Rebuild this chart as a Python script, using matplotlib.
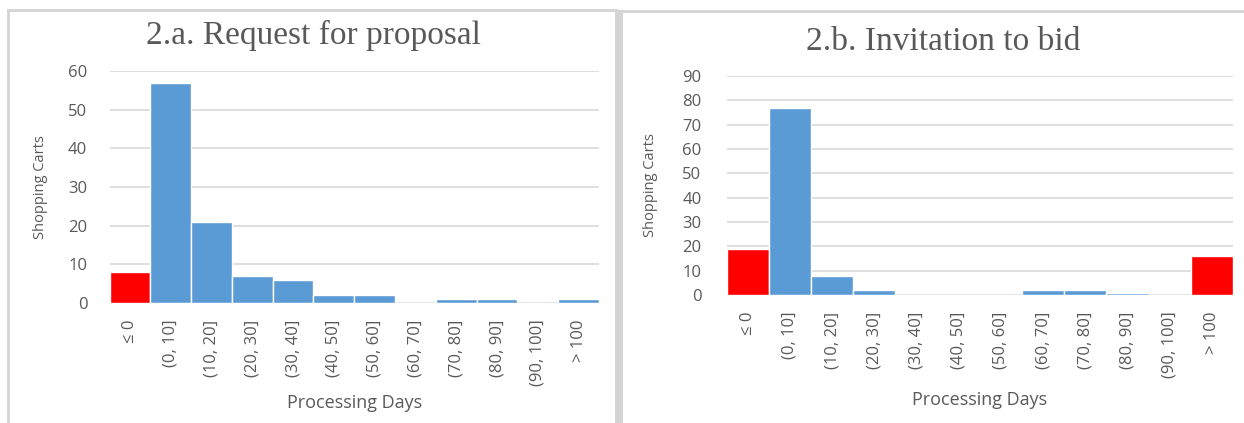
import matplotlib.pyplot as plt
from matplotlib.patches import Rectangle

# bin labels shared by both panels
bins = ["≤ 0", "(0, 10]", "(10, 20]", "(20, 30]", "(30, 40]", "(40, 50]",
        "(50, 60]", "(60, 70]", "(70, 80]", "(80, 90]", "(90, 100]", "> 100"]

# shopping carts per bin
rfp_counts = [8, 57, 21, 7, 6, 2, 2, 0, 1, 1, 0, 1]
itb_counts = [19, 77, 8, 2, 0, 0, 0, 2, 2, 1, 0, 16]

# which bins are highlighted red
rfp_red = [True] + [False] * 11
itb_red = [True] + [False] * 10 + [True]

BLUE = "#5B9BD5"
RED = "#FF0000"
GREY_TXT = "#595959"
GRID = "#D9D9D9"
FRAME = "#D4D4D4"

plt.rcParams["font.family"] = ["Open Sans", "DejaVu Sans"]

W, H = 1244, 423
fig = plt.figure(figsize=(W / 100, H / 100), dpi=100)


def box(x0, y0, x1, y1):
    # pixel coords (top-left origin) -> figure fraction rect
    return [x0 / W, 1 - y1 / H, (x1 - x0) / W, (y1 - y0) / H]


# panel frames
fig.patches.append(Rectangle((8 / W, -0.05), (617 - 8) / W, 1 - 10 / H + 0.05,
                             transform=fig.transFigure, fill=False,
                             edgecolor=FRAME, linewidth=2.0))
fig.patches.append(Rectangle((621 / W, -0.05), (1250 - 621) / W, 1 - 11 / H + 0.05,
                             transform=fig.transFigure, fill=False,
                             edgecolor=FRAME, linewidth=2.0))
# thick strip between the two panels
fig.patches.append(Rectangle((615 / W, 0), 8 / W, 1 - 10 / H,
                             transform=fig.transFigure, facecolor=FRAME,
                             edgecolor="none"))


def panel(rect, counts, reds, ymax, title, title_xy, ylab_x, xlab_y, ypad, xpad):
    ax = fig.add_axes(box(*rect))
    colors = [RED if r else BLUE for r in reds]
    ax.bar(range(len(bins)), counts, width=1.0, color=colors,
           edgecolor="white", linewidth=1.0, zorder=3)
    ax.set_xlim(-0.5, len(bins) - 0.5)
    ax.set_ylim(0, ymax)
    ax.set_yticks(range(0, ymax + 1, 10))
    ax.set_xticks(range(len(bins)))
    ax.set_xticklabels(bins, rotation=90)
    ax.tick_params(axis="both", length=0, colors=GREY_TXT, labelsize=12)
    ax.tick_params(axis="x", pad=xpad)
    ax.tick_params(axis="y", pad=ypad)
    ax.grid(axis="y", color=GRID, linewidth=1.2, zorder=0)
    for s in ax.spines.values():
        s.set_visible(False)
    fig.text(title_xy[0] / W, 1 - title_xy[1] / H, title, family="Liberation Serif",
             fontsize=24, color=GREY_TXT, ha="center", va="center")
    fig.text(ylab_x / W, 1 - ((rect[1] + rect[3]) / 2) / H, "Shopping Carts",
             rotation=90, fontsize=10.5, color=GREY_TXT, ha="center", va="center")
    fig.text(((rect[0] + rect[2]) / 2) / W, 1 - xlab_y / H, "Processing Days",
             fontsize=13, color=GREY_TXT, ha="center", va="center")
    return ax


panel((109.5, 71, 599, 303), rfp_counts, rfp_red, 60,
      "2.a. Request for proposal", (313, 35), 40, 403, 16, 12)
panel((726.5, 76, 1233, 295), itb_counts, itb_red, 90,
      "2.b. Invitation to bid", (943, 42), 651, 400, 18, 12)

fig.savefig("out.png", dpi=100)
